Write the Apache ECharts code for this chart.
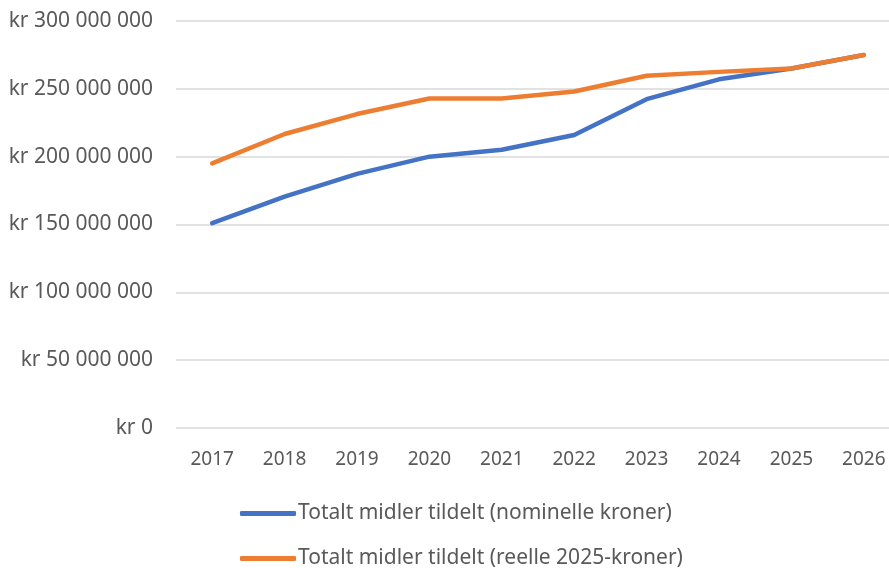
<!DOCTYPE html>
<html>
<head>
<meta charset="utf-8">
<script src="https://cdn.jsdelivr.net/npm/echarts@6/dist/echarts.min.js"></script>
<style>
html,body{margin:0;padding:0;background:#fff;}
#chart{width:889px;height:568px;}
</style>
</head>
<body>
<div id="chart"></div>
<script>
const years = ['2017','2018','2019','2020','2021','2022','2023','2024','2025','2026'];
const nominal = [151000000, 170500000, 187300000, 200000000, 205100000, 216000000, 242400000, 257000000, 265000000, 275000000];
const real2025 = [195100000, 216700000, 231400000, 242900000, 242900000, 248000000, 259600000, 262500000, 265000000, 275000000];
const seriesNames = ['Totalt midler tildelt (nominelle kroner)', 'Totalt midler tildelt (reelle 2025-kroner)'];

function fmt(v){
  const s = String(Math.round(v)).replace(/\B(?=(\d{3})+(?!\d))/g, ' ');
  return 'kr ' + s;
}

const chart = echarts.init(document.getElementById('chart'));
const font = 'Noto Sans';
function legendFor(name, top){
  return {
    orient: 'horizontal',
    left: 240,
    top: top,
    padding: 0,
    itemWidth: 56,
    itemHeight: 5,
    icon: 'roundRect',
    textStyle: {fontFamily: font, fontSize: 21, color: '#595959', padding: [0,0,0,-3]},
    data: [name]
  };
}
chart.setOption({
  animation: false,
  textStyle: {fontFamily: font},
  grid: {left: 176, width: 724, top: 21, height: 407, containLabel: false, outerBoundsMode: 'none'},
  legend: [legendFor(seriesNames[0], 503), legendFor(seriesNames[1], 548)],
  xAxis: {
    type: 'category',
    data: years,
    boundaryGap: true,
    axisLine: {show: false},
    axisTick: {show: false},
    axisLabel: {color: '#595959', fontSize: 19, margin: 22, fontFamily: font}
  },
  yAxis: {
    type: 'value',
    min: 0,
    max: 300000000,
    interval: 50000000,
    axisLine: {show: false},
    axisTick: {show: false},
    splitLine: {lineStyle: {color: '#d9d9d9', width: 1.5}},
    axisLabel: {color: '#595959', fontSize: 21, margin: 23, fontFamily: font, formatter: fmt}
  },
  series: [
    {name: seriesNames[0], type: 'line', data: nominal, symbol: 'none', smooth: false,
     lineStyle: {color: '#4472C4', width: 4.5, cap: 'round', join: 'round'}, itemStyle: {color: '#4472C4'}},
    {name: seriesNames[1], type: 'line', data: real2025, symbol: 'none', smooth: false,
     lineStyle: {color: '#ED7D31', width: 4.5, cap: 'round', join: 'round'}, itemStyle: {color: '#ED7D31'}}
  ]
});
</script>
</body>
</html>
